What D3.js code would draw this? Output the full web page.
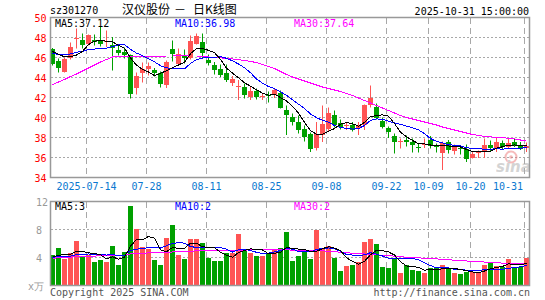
<!DOCTYPE html>
<html>
<head>
<meta charset="utf-8">
<title>sz301270 daily K</title>
<style>
  body { margin: 0; background: #fff; }
  svg { display: block; }
  text { font-family: "DejaVu Sans Mono", monospace; font-size: 10px; }
</style>
</head>
<body>
<svg width="545" height="300"></svg>
<script src="https://cdn.jsdelivr.net/npm/d3@7"></script>
<script>
// trading days shown
var dates = [
  '2025-07-04','2025-07-07','2025-07-08','2025-07-09','2025-07-10','2025-07-11',
  '2025-07-14','2025-07-15','2025-07-16','2025-07-17','2025-07-18',
  '2025-07-21','2025-07-22','2025-07-23','2025-07-24','2025-07-25',
  '2025-07-28','2025-07-29','2025-07-30','2025-07-31','2025-08-01',
  '2025-08-04','2025-08-05','2025-08-06','2025-08-07','2025-08-08',
  '2025-08-11','2025-08-12','2025-08-13','2025-08-14','2025-08-15',
  '2025-08-18','2025-08-19','2025-08-20','2025-08-21','2025-08-22',
  '2025-08-25','2025-08-26','2025-08-27','2025-08-28','2025-08-29',
  '2025-09-01','2025-09-02','2025-09-03','2025-09-04','2025-09-05',
  '2025-09-08','2025-09-09','2025-09-10','2025-09-11','2025-09-12',
  '2025-09-15','2025-09-16','2025-09-17','2025-09-18','2025-09-19',
  '2025-09-22','2025-09-23','2025-09-24','2025-09-25','2025-09-26',
  '2025-09-29','2025-09-30',
  '2025-10-09','2025-10-10',
  '2025-10-13','2025-10-14','2025-10-15','2025-10-16','2025-10-17',
  '2025-10-20','2025-10-21','2025-10-22','2025-10-23','2025-10-24',
  '2025-10-27','2025-10-28','2025-10-29','2025-10-30','2025-10-31'
]

var open = [46.9,45.6,44.6,45.9,47.85,47.8,47.35,47.8,47.7,47.5,
  47.3,46.8,46.55,46.25,42.95,44.5,44.85,44.75,44.5,43.25,
  46.9,45.4,46.2,45.9,47.4,47.55,45.8,45.3,44.9,44.45,
  43.55,43.1,43.05,42.05,42.6,42.1,42.3,42.25,42.5,40.75,
  40.05,39.55,38.85,38.4,37.05,38.3,38.9,40.3,39.5,39.2,
  39.3,38.9,39.2,41.3,41.05,39.6,38.95,38.15,37.6,37.75,
  37.55,37.05,37.35,37.7,37.1,36.5,37.55,36.65,37.0,36.9,
  36.05,36.4,36.55,37.2,36.9,37.45,37.05,37.55,37.3,36.95]
var high = [46.95,45.9,46.0,47.5,48.9,48.4,48.3,48.3,49.05,48.7,
  48.05,47.2,47.0,46.3,44.5,45.5,45.5,44.95,44.6,45.7,
  47.7,46.9,46.8,48.2,48.4,48.4,46.3,45.55,45.3,45.3,
  44.15,43.75,43.4,43.05,42.9,42.4,42.6,42.9,42.7,41.2,
  40.4,40.2,39.2,38.5,39.55,41.2,41.0,40.7,39.8,39.55,
  39.55,39.55,41.3,43.2,41.4,40.0,39.1,38.4,37.9,38.2,
  37.9,37.4,37.9,38.15,37.4,37.6,37.75,37.3,37.2,37.3,
  36.6,36.7,37.9,37.7,37.95,37.7,37.95,37.9,37.55,37.5]
var low = [45.2,44.5,44.5,45.8,46.9,46.9,47.2,47.2,47.1,47.05,
  44.7,46.2,45.9,41.9,42.3,43.5,44.2,44.1,43.0,42.95,
  45.6,45.2,45.4,45.8,47.3,45.9,45.2,44.3,44.05,43.55,
  43.15,41.75,41.9,41.75,41.8,41.75,41.5,41.95,40.9,38.25,
  39.2,38.4,37.6,36.55,36.7,37.55,38.6,39.0,38.8,38.75,
  38.6,38.25,38.75,41.0,39.8,38.9,37.95,36.4,36.9,37.1,
  36.5,36.5,36.95,36.9,36.5,34.75,36.4,36.3,36.3,35.55,
  35.9,35.95,35.95,36.6,36.55,36.75,36.9,37.05,36.75,36.55]
var close = [45.4,44.9,45.9,47.05,47.95,47.3,48.25,47.6,47.35,47.65,
  47.0,46.45,46.25,42.35,44.15,44.9,45.1,44.5,43.4,45.55,
  46.4,46.4,45.95,47.6,48.15,46.4,45.5,44.75,44.3,43.75,
  43.9,43.15,42.25,42.6,42.0,42.15,42.15,42.7,41.0,40.25,
  39.5,38.75,38.05,36.9,38.4,39.4,40.45,39.3,39.1,39.25,
  38.8,39.2,41.2,41.95,39.9,39.05,38.55,37.55,37.65,37.55,
  37.2,37.0,37.4,37.1,37.05,37.5,36.75,37.05,36.9,35.85,
  36.4,36.6,37.2,36.95,37.55,37.05,37.45,37.25,36.9,37.1]
// closes of the 9 sessions before 07-04, read back from the MA5/MA10 start
var closeBefore = [45.8,46.0,46.5,46.2,46.5,46.3,47.2,47.0,47.1]
var ma30 = [43.3,43.55,43.8,44.1,44.35,44.65,44.95,45.25,45.55,45.8,
  46.05,46.1,46.1,46.1,46.1,46.1,46.1,46.12,46.14,46.15,
  46.15,46.16,46.16,46.15,46.15,46.12,46.05,46.0,45.96,45.9,
  45.85,45.78,45.7,45.6,45.5,45.3,45.1,44.9,44.6,44.3,
  44.05,43.85,43.65,43.45,43.25,43.05,42.9,42.75,42.6,42.4,
  42.2,41.95,41.7,41.45,41.2,40.95,40.7,40.45,40.2,40.0,
  39.85,39.7,39.55,39.4,39.25,39.05,38.9,38.75,38.6,38.45,
  38.3,38.2,38.12,38.06,38.02,37.98,37.92,37.85,37.75,37.64]

// volume, 10k lots
var volume = [4.4,5.4,3.8,4.6,6.3,4.2,4.4,3.4,3.6,3.4,
  5.6,2.9,4.8,11.4,8.1,5.5,5.2,3.6,3.0,6.8,
  8.6,4.4,3.8,6.7,6.7,6.1,3.95,3.5,3.5,4.6,
  4.6,7.4,4.9,4.7,4.2,4.2,4.7,5.2,5.4,7.7,
  3.5,4.2,5.0,3.8,7.9,5.4,5.6,3.95,2.05,2.75,
  2.9,3.4,6.2,6.7,5.9,2.7,2.5,3.95,1.85,3.0,
  2.2,2.05,1.85,2.45,2.7,2.9,2.35,1.8,1.6,1.95,
  1.95,1.95,2.9,3.25,2.8,2.7,3.75,2.7,2.7,3.95]
var volumeBefore = [3.8,4.2,3.9,4.1,3.7,4.0,3.6,4.3,4.0]
var vma30 = [3.9,3.95,4.0,4.05,4.1,4.15,4.2,4.2,4.25,4.25,
  4.3,4.3,4.35,4.5,4.6,4.62,4.65,4.65,4.65,4.7,
  4.8,4.8,4.85,4.9,4.95,5.0,5.0,5.0,5.0,5.05,
  5.05,5.05,5.05,5.1,5.1,5.12,5.1,5.1,5.1,5.1,
  5.05,5.0,5.0,4.95,4.95,4.95,4.9,4.85,4.75,4.7,
  4.6,4.55,4.5,4.45,4.4,4.3,4.25,4.2,4.1,4.05,
  4.0,3.95,3.9,3.85,3.8,3.75,3.7,3.6,3.55,3.5,
  3.45,3.4,3.35,3.3,3.25,3.2,3.15,3.15,3.1,3.1]

var priceTicks = [34,36,38,40,42,44,46,48,50]
var volTicks = [12,8,4]
var tickDays = ['2025-07-14','2025-07-28','2025-08-11','2025-08-25','2025-09-08','2025-09-22','2025-10-09','2025-10-20','2025-10-31']
var tickLabels = ['2025-07-14','07-28','08-11','08-25','09-08','09-22','10-09','10-20','10-31']

var UP = '#ff5454', DOWN = '#00a000', GRID = '#a8a8a8'

function movingAvg(vals, before, n) {
  var all = before.concat(vals)
  return vals.map((v, i) => d3.mean(all.slice(i + before.length - n + 1, i + before.length + 1)))
}
var ma5 = movingAvg(close, closeBefore, 5)
var ma10 = movingAvg(close, closeBefore, 10)
var vma5 = movingAvg(volume, volumeBefore, 5)
var vma10 = movingAvg(volume, volumeBefore, 10)

var svg = d3.select('svg')
var x = d3.scaleBand().domain(dates).range([50, 530])
var yP = d3.scaleLinear().domain([34, 50]).range([177.5, 17.5])
var yV = d3.scaleLinear().domain([0, 12]).range([285.5, 201.5])

// grid
function grid(y0, y1, hs) {
  svg.append('g').selectAll('line').data(hs).enter().append('line')
    .attr('x1', 51).attr('x2', 529).attr('y1', d => d).attr('y2', d => d)
    .attr('stroke', GRID).attr('stroke-dasharray', '2,2')
  svg.append('g').selectAll('line').data(tickDays).enter().append('line')
    .attr('x1', d => x(d) + 0.5).attr('x2', d => x(d) + 0.5)
    .attr('y1', y0).attr('y2', y1)
    .attr('stroke', GRID).attr('stroke-dasharray', '6,4')
}
grid(18, 177, priceTicks.slice(1, -1).map(yP))
grid(202, 285, [8, 4].map(yV))

// sina watermark
var wm = svg.append('g').attr('opacity', 0.5)
wm.append('circle').attr('cx', 511).attr('cy', 157).attr('r', 5.5).attr('fill', 'none').attr('stroke', '#e77').attr('stroke-width', 2)
wm.append('circle').attr('cx', 511).attr('cy', 157).attr('r', 1.8).attr('fill', '#e77')
wm.append('text').attr('x', 496).attr('y', 172).text('sina')
  .style('font-family', 'DejaVu Sans').style('font-size', '15px').style('font-weight', 'bold').style('font-style', 'italic')
  .attr('fill', '#aaa')

// candles
var idx = d3.range(dates.length)
var isUp = i => close[i] >= open[i]
var cg = svg.append('g')
cg.selectAll('line').data(idx).enter().append('line')
  .attr('x1', i => x(dates[i]) + 2.5).attr('x2', i => x(dates[i]) + 2.5)
  .attr('y1', i => yP(high[i])).attr('y2', i => yP(low[i]))
  .attr('stroke', i => isUp(i) ? UP : DOWN)
cg.selectAll('rect').data(idx).enter().append('rect')
  .attr('x', i => x(dates[i])).attr('width', 5)
  .attr('y', i => Math.round(yP(Math.max(open[i], close[i]))))
  .attr('height', i => Math.max(1, Math.round(Math.abs(yP(open[i]) - yP(close[i])))))
  .attr('fill', i => isUp(i) ? UP : DOWN)
  .attr('shape-rendering', 'crispEdges')

// volume bars
svg.append('g').selectAll('rect').data(idx).enter().append('rect')
  .attr('x', i => x(dates[i])).attr('width', 5)
  .attr('y', i => Math.round(yV(volume[i])))
  .attr('height', i => 285 - Math.round(yV(volume[i])))
  .attr('fill', i => isUp(i) ? UP : DOWN)
  .attr('shape-rendering', 'crispEdges')

// moving averages
function maLine(vals, yScale, color) {
  svg.append('path').datum(vals)
    .attr('d', d3.line().x((d, i) => x(dates[i]) + 2.5).y(d => yScale(d)))
    .attr('fill', 'none').attr('stroke', color).attr('stroke-width', 1)
    .attr('shape-rendering', 'crispEdges')
}
maLine(ma30, yP, '#ff00ff')
maLine(ma10, yP, '#0000ff')
maLine(ma5, yP, '#000')
maLine(vma30, yV, '#ff00ff')
maLine(vma10, yV, '#0000ff')
maLine(vma5, yV, '#000')

// frames
svg.append('rect').attr('x', 50.5).attr('y', 17.5).attr('width', 479).attr('height', 160)
  .attr('fill', 'none').attr('stroke', '#999').attr('stroke-width', 1.5)
svg.append('rect').attr('x', 50.5).attr('y', 201.5).attr('width', 479).attr('height', 84)
  .attr('fill', 'none').attr('stroke', '#999').attr('stroke-width', 1.5)

// axis labels
svg.append('g').selectAll('text').data(priceTicks).enter().append('text')
  .attr('x', 46.5).attr('y', d => yP(d) + 4).attr('text-anchor', 'end')
  .attr('fill', '#f00').text(d => d)
svg.append('g').selectAll('text').data(volTicks).enter().append('text')
  .attr('x', 36).attr('y', d => yV(d) + 4)
  .attr('fill', '#999').text(d => d)
svg.append('text').attr('x', 28).attr('y', 290).attr('fill', '#999').text('x万')
svg.append('g').selectAll('text').data(tickDays).enter().append('text')
  .attr('x', (d, i) => i === tickDays.length - 1 ? 523 : x(d) + 0.5)
  .attr('y', 190)
  .attr('text-anchor', (d, i) => i === tickDays.length - 1 ? 'end' : 'middle')
  .attr('fill', '#0a78d0')
  .text((d, i) => tickLabels[i])

// header
svg.append('text').attr('x', 50).attr('y', 14).text('sz301270')
var title = svg.append('text').attr('y', 14)
  .style('font-family', '"Noto Sans CJK SC"').style('font-size', '12px')
title.append('tspan').attr('x', 122).text('汉仪股份')
title.append('tspan').attr('x', 174).text('－')
title.append('tspan').attr('x', 193).text('日K线图')
svg.append('text').attr('x', 529).attr('y', 15).attr('text-anchor', 'end').text('2025-10-31 15:00:00')

function legend(y, items) {
  items.forEach(function (it) {
    svg.append('text').attr('x', it[0]).attr('y', y).attr('fill', it[1]).text(it[2])
  })
}
legend(27, [[55, '#000', 'MA5:37.12'], [175, '#0000ff', 'MA10:36.98'], [294, '#ff00ff', 'MA30:37.64']])
legend(210, [[55, '#000', 'MA5:3'], [175, '#0000ff', 'MA10:2'], [294, '#ff00ff', 'MA30:2']])

svg.append('text').attr('x', 50).attr('y', 296).attr('fill', '#555').text('Copyright 2025 SINA.COM')
svg.append('text').attr('x', 530).attr('y', 296).attr('text-anchor', 'end').attr('fill', '#555')
  .text('http://finance.sina.com.cn')
</script>
</body>
</html>
